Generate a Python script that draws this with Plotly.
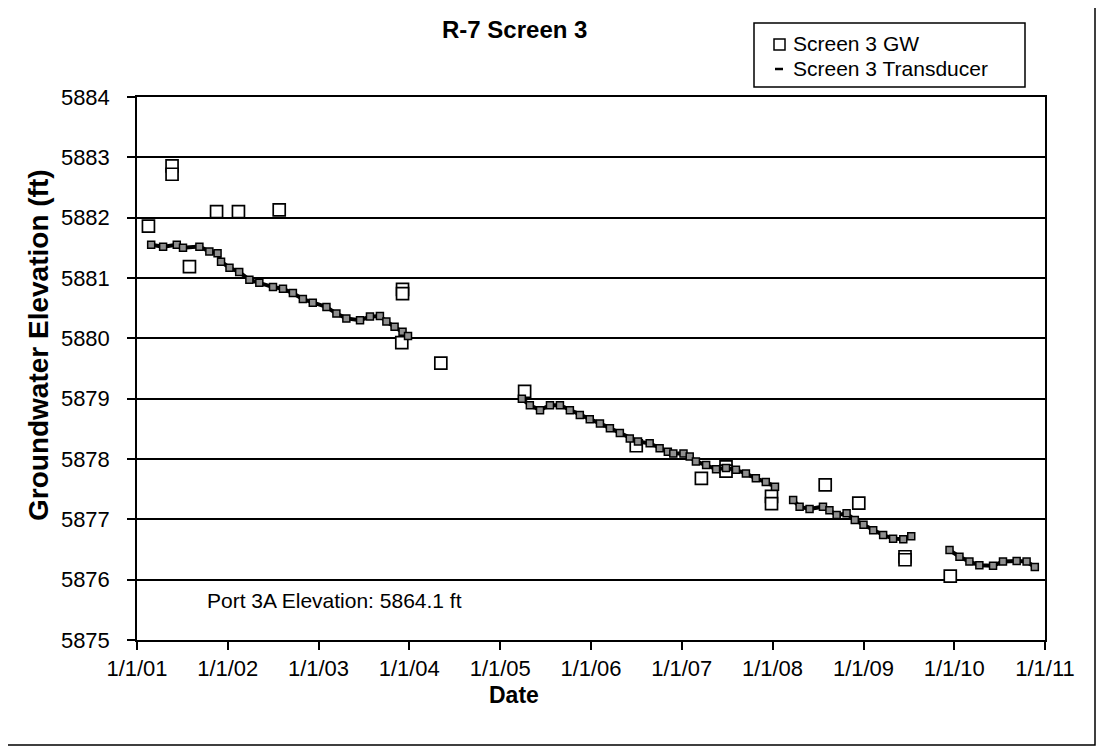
import plotly.graph_objects as go

# ---- data ----
gw_dates = ["2001-02-16", "2001-05-22", "2001-05-22", "2001-07-31", "2001-11-17",
            "2002-02-13", "2002-07-27", "2003-12-05", "2003-12-05", "2003-12-02",
            "2004-05-07", "2005-04-09", "2006-07-02", "2007-03-21", "2007-06-28",
            "2007-06-28", "2007-12-28", "2007-12-28", "2008-07-31", "2008-12-13",
            "2009-06-17", "2009-06-17", "2009-12-16"]
gw_elev = [5881.86, 5882.86, 5882.72, 5881.19, 5882.10,
           5882.10, 5882.13, 5880.81, 5880.74, 5879.93,
           5879.59, 5879.12, 5878.22, 5877.68, 5877.87,
           5877.80, 5877.38, 5877.26, 5877.57, 5877.27,
           5876.38, 5876.33, 5876.06]

# transducer record (None separates data gaps)
td_dates = ["2001-02-27", "2001-04-16", "2001-06-10", "2001-07-05", "2001-09-09",
            "2001-10-19", "2001-11-21", "2001-12-05", "2002-01-08", "2002-02-16",
            "2002-03-29", "2002-05-08", "2002-07-02", "2002-08-11", "2002-09-20",
            "2002-10-30", "2002-12-09", "2003-02-02", "2003-03-14", "2003-04-23",
            "2003-06-17", "2003-07-27", "2003-09-05", "2003-10-01", "2003-11-03",
            "2003-12-05", "2003-12-27", None,
            "2005-03-29", "2005-04-30", "2005-06-10", "2005-07-20", "2005-08-29",
            "2005-10-08", "2005-11-17", "2005-12-27", "2006-02-06", "2006-03-18",
            "2006-04-27", "2006-06-06", "2006-07-09", "2006-08-25", "2006-10-04",
            "2006-11-06", "2006-11-28", "2007-01-08", "2007-02-02", "2007-02-27",
            "2007-04-09", "2007-05-19", "2007-06-28", "2007-08-07", "2007-09-16",
            "2007-10-26", "2007-12-05", "2008-01-11", None,
            "2008-03-24", "2008-04-19", "2008-05-29", "2008-07-22", "2008-08-17",
            "2008-09-15", "2008-10-25", "2008-11-27", "2009-01-01", "2009-02-09",
            "2009-03-21", "2009-04-30", "2009-06-10", "2009-07-12", None,
            "2009-12-13", "2010-01-22", "2010-03-03", "2010-04-12", "2010-06-06",
            "2010-07-16", "2010-09-09", "2010-10-19", "2010-11-21"]
td_elev = [5881.55, 5881.52, 5881.55, 5881.50, 5881.52,
           5881.44, 5881.41, 5881.27, 5881.17, 5881.10,
           5880.97, 5880.92, 5880.85, 5880.82, 5880.75,
           5880.65, 5880.59, 5880.52, 5880.41, 5880.33,
           5880.30, 5880.36, 5880.37, 5880.28, 5880.19,
           5880.11, 5880.04, None,
           5879.00, 5878.89, 5878.81, 5878.89, 5878.89,
           5878.81, 5878.73, 5878.66, 5878.59, 5878.51,
           5878.43, 5878.34, 5878.29, 5878.26, 5878.18,
           5878.12, 5878.09, 5878.09, 5878.04, 5877.96,
           5877.90, 5877.83, 5877.85, 5877.82, 5877.76,
           5877.68, 5877.62, 5877.54, None,
           5877.32, 5877.21, 5877.17, 5877.21, 5877.15,
           5877.07, 5877.10, 5876.99, 5876.91, 5876.82,
           5876.74, 5876.68, 5876.67, 5876.72, None,
           5876.49, 5876.38, 5876.30, 5876.24, 5876.23,
           5876.30, 5876.31, 5876.30, 5876.21]

x_tick_vals = ["2001-01-01", "2002-01-01", "2003-01-01", "2004-01-01", "2005-01-01",
               "2006-01-01", "2007-01-01", "2008-01-01", "2009-01-01", "2010-01-01",
               "2011-01-01"]
x_tick_text = ["1/1/01", "1/1/02", "1/1/03", "1/1/04", "1/1/05", "1/1/06",
               "1/1/07", "1/1/08", "1/1/09", "1/1/10", "1/1/11"]
y_tick_vals = [5875, 5876, 5877, 5878, 5879, 5880, 5881, 5882, 5883, 5884]

legend_names = ["Screen 3 GW", "Screen 3 Transducer"]

FONT = "Liberation Sans, Arial, sans-serif"

# plot area in page pixels (the page body adds an 8 px offset)
PL, PR, PT, PB = 137, 1045, 97, 640
OFF = 8
W, H = 1104, 752
PW, PH = PR - PL, PB - PT


def px(xp):
    return (xp - PL) / PW


def py(yp):
    return (PB - yp) / PH


fig = go.Figure()

fig.add_trace(go.Scatter(
    x=gw_dates, y=gw_elev, mode="markers", name=legend_names[0],
    marker=dict(symbol="square", size=12, color="white",
                line=dict(color="black", width=1.7)),
))
fig.add_trace(go.Scatter(
    x=td_dates, y=td_elev, mode="lines+markers", name=legend_names[1],
    connectgaps=False,
    line=dict(color="black", width=4),
    marker=dict(symbol="square", size=7, color="#8f8f8f",
                line=dict(color="black", width=1.5)),
))

fig.update_layout(
    width=W, height=H,
    margin=dict(l=PL - OFF, r=W - PW - (PL - OFF), t=PT - OFF,
                b=H - PH - (PT - OFF), autoexpand=False),
    paper_bgcolor="white", plot_bgcolor="white",
    font=dict(family=FONT, size=22, color="black"),
    showlegend=False,
)

fig.update_xaxes(
    type="date", range=["2001-01-01", "2011-01-01"],
    tickmode="array", tickvals=x_tick_vals, ticktext=x_tick_text,
    ticks="outside", ticklen=8, tickwidth=1.5, tickcolor="black",
    showline=True, linecolor="black", linewidth=1.5, mirror=True,
    showgrid=False, zeroline=False, ticklabelstandoff=0,
    tickfont=dict(family=FONT, size=22, color="black"),
)
fig.update_yaxes(
    range=[5875, 5884], tickmode="array", tickvals=y_tick_vals,
    ticks="outside", ticklen=8, tickwidth=1.5, tickcolor="black",
    showline=True, linecolor="black", linewidth=1.5, mirror=True,
    showgrid=True, gridcolor="black", gridwidth=1.5, zeroline=False,
    ticklabelstandoff=13, tickformat="d",
    tickfont=dict(family=FONT, size=22, color="black"),
)

# outer chart border
fig.add_shape(type="rect", xref="paper", yref="paper",
              x0=px(7), x1=px(1095), y0=py(745), y1=py(7),
              line=dict(color="black", width=1.5), fillcolor="rgba(0,0,0,0)",
              layer="below")

# legend box (drawn manually to match the compact reference legend)
fig.add_shape(type="rect", xref="paper", yref="paper",
              x0=px(754), x1=px(1025), y0=py(87), y1=py(23),
              line=dict(color="black", width=1.5), fillcolor="white", layer="above")
fig.add_shape(type="rect", xref="paper", yref="paper",
              x0=px(774), x1=px(785), y0=py(50), y1=py(39),
              line=dict(color="black", width=1.5), fillcolor="white", layer="above")
fig.add_shape(type="line", xref="paper", yref="paper",
              x0=px(775), x1=px(783), y0=py(69), y1=py(69),
              line=dict(color="black", width=2.5), layer="above")
fig.add_annotation(text=legend_names[0], xref="paper", yref="paper",
                   x=px(792), y=py(44), xanchor="left", yanchor="middle",
                   showarrow=False, borderpad=0,
                   font=dict(family=FONT, size=21, color="black"))
fig.add_annotation(text=legend_names[1], xref="paper", yref="paper",
                   x=px(792), y=py(69), xanchor="left", yanchor="middle",
                   showarrow=False, borderpad=0,
                   font=dict(family=FONT, size=21, color="black"))

fig.add_annotation(text="<b>R-7 Screen 3</b>", xref="paper", yref="paper",
                   x=px(514), y=py(30), xanchor="center", yanchor="middle",
                   showarrow=False, font=dict(family=FONT, size=24, color="black"))
fig.add_annotation(text="<b>Date</b>", xref="paper", yref="paper",
                   x=px(514), y=py(695), xanchor="center", yanchor="middle",
                   showarrow=False, font=dict(family=FONT, size=23, color="black"))
fig.add_annotation(text="<b>Groundwater Elevation (ft)</b>", xref="paper", yref="paper",
                   x=px(38), y=py(345), xanchor="center", yanchor="middle",
                   showarrow=False, textangle=-90,
                   font=dict(family=FONT, size=28, color="black"))
fig.add_annotation(text="Port 3A Elevation: 5864.1 ft", xref="paper", yref="paper",
                   x=px(205), y=py(600), xanchor="left", yanchor="middle",
                   showarrow=False, font=dict(family=FONT, size=21, color="black"))

fig.write_html("out.html")
